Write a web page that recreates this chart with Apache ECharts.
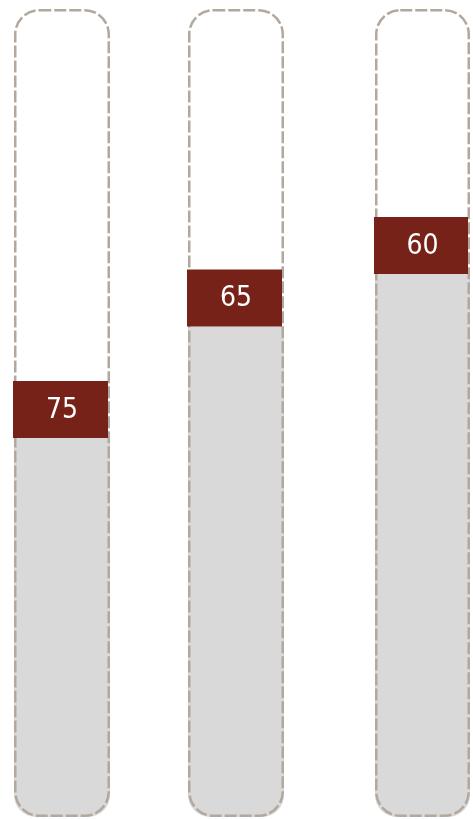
<!DOCTYPE html>
<html>
<head>
<meta charset="utf-8">
<style>
html,body{margin:0;padding:0;background:#fff;}
#chart{width:473px;height:819px;}
</style>
<script src="https://cdn.jsdelivr.net/npm/echarts@6/dist/echarts.min.js"></script>
</head>
<body>
<div id="chart"></div>
<script>
// Data
var categories = ['A', 'B', 'C'];
var labelValues = [75, 65, 60];          // numbers shown in the red boxes
var fillLevels = [46.9, 60.7, 67.2];     // grey fill level, % of column height
var capacity = [100, 100, 100];          // full column (dashed outline)

var chart = echarts.init(document.getElementById('chart'));

var gridBoxes = [
  {left: 14, width: 96},
  {left: 188, width: 96},
  {left: 375, width: 95}
];
var BOX_H = 57;

var grids = [], xAxes = [], yAxes = [], series = [];
categories.forEach(function (cat, i) {
  grids.push({left: gridBoxes[i].left, width: gridBoxes[i].width, top: 9, bottom: 2});
  xAxes.push({type: 'category', gridIndex: i, data: [cat], show: false, boundaryGap: true});
  yAxes.push({type: 'value', gridIndex: i, min: 0, max: 100, show: false});
  series.push({
    type: 'bar', xAxisIndex: i, yAxisIndex: i, barWidth: '100%', barGap: '-100%',
    silent: true, z: 1,
    itemStyle: {color: '#d9d9d9', borderRadius: [0, 0, 22, 22]},
    data: [fillLevels[i]]
  });
  series.push({
    type: 'bar', xAxisIndex: i, yAxisIndex: i, barWidth: '100%', barGap: '-100%',
    silent: true, z: 2,
    itemStyle: {color: 'rgba(0,0,0,0)', borderColor: '#b3a89e', borderWidth: 2.5,
      borderType: [12, 3], borderRadius: 24},
    data: [capacity[i]]
  });
  series.push({
    type: 'custom', xAxisIndex: i, yAxisIndex: i, z: 3, silent: true,
    data: [[0, fillLevels[i], labelValues[i]]],
    renderItem: function (params, api) {
      var pt = api.coord([api.value(0), api.value(1)]);
      var bw = api.size([1, 0])[0];
      var x0 = pt[0] - bw / 2 - 1;
      return {
        type: 'group',
        children: [
          {type: 'rect', shape: {x: x0, y: pt[1] - BOX_H, width: bw - 1, height: BOX_H},
            style: {fill: '#772219'}},
          {type: 'text', style: {text: String(api.value(2)), x: pt[0], y: pt[1] - BOX_H / 2 + 1,
            align: 'center', verticalAlign: 'middle', fill: '#ffffff',
            font: '28px "DejaVu Sans Condensed", "DejaVu Sans", sans-serif'}}
        ]
      };
    }
  });
});

chart.setOption({
  animation: false,
  grid: grids,
  xAxis: xAxes,
  yAxis: yAxes,
  series: series
});
</script>
</body>
</html>
